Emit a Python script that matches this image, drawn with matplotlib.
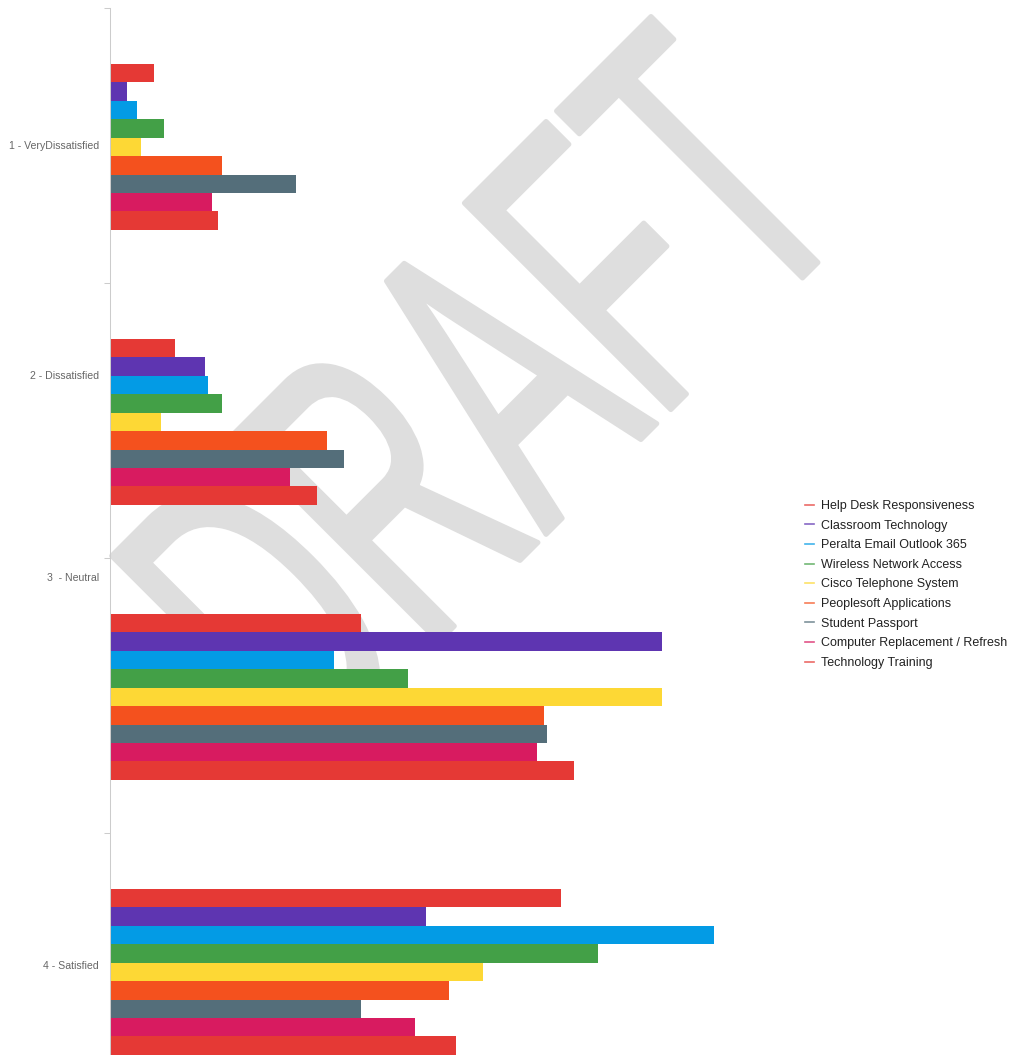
import matplotlib
matplotlib.use("Agg")
import matplotlib.pyplot as plt
import numpy as np
from matplotlib.textpath import TextPath
from matplotlib.font_manager import FontProperties
from matplotlib.patches import PathPatch
from matplotlib.transforms import Affine2D, IdentityTransform
from matplotlib.lines import Line2D

plt.rcParams["font.family"] = ["Liberation Sans", "DejaVu Sans"]

# ---- data -------------------------------------------------------------
categories = ["1 - VeryDissatisfied", "2 - Dissatisfied", "3  - Neutral", "4 - Satisfied"]
services = [
    "Help Desk Responsiveness",
    "Classroom Technology",
    "Peralta Email Outlook 365",
    "Wireless Network Access",
    "Cisco Telephone System",
    "Peoplesoft Applications",
    "Student Passport",
    "Computer Replacement / Refresh",
    "Technology Training",
]
colors = ["#E53935", "#5E35B1", "#039BE5", "#43A047", "#FDD835",
          "#F4511E", "#546E7A", "#D81B60", "#E53935"]

help_desk = [44, 65, 251, 451]
classroom = [17, 95, 552, 316]
email = [27, 98, 224, 604]
wireless = [54, 112, 298, 488]
telephone = [31, 51, 552, 373]
peoplesoft = [112, 217, 434, 339]
passport = [186, 234, 437, 251]
computer = [102, 180, 427, 305]
training = [108, 207, 464, 346]
series = [help_desk, classroom, email, wireless, telephone,
          peoplesoft, passport, computer, training]

# where each category caption sits along the category axis
label_pos = [0.0, 0.835, 1.57, 2.98]

# ---- figure -----------------------------------------------------------
W, H = 1009, 1055
fig = plt.figure(figsize=(W / 100, H / 100), dpi=100)
fig.patch.set_facecolor("white")

ax = fig.add_axes([110 / W, 1 - 1108 / H, 670 / W, 1100 / H])
ax.set_facecolor("none")
ax.set_zorder(1)
ax.set_xlim(0, 670)
ax.set_ylim(3.5, -0.5)

n = len(series)
group = 0.604
bh = group / n
base = np.arange(len(categories))
for i, (vals, c) in enumerate(zip(series, colors)):
    y = base + (i - (n - 1) / 2) * bh + 0.005
    ax.barh(y, vals, height=bh, color=c, linewidth=0, zorder=2)

for s in ("top", "right", "bottom"):
    ax.spines[s].set_visible(False)
ax.spines["left"].set_color("#cccccc")
ax.spines["left"].set_linewidth(0.75)
ax.xaxis.set_visible(False)

ax.set_yticks(label_pos)
ax.set_yticklabels(categories, fontsize=7.6, color="#666666")
ax.tick_params(axis="y", which="major", length=0, pad=8)
ax.set_yticks(np.arange(-0.5, 4.0, 1.0), minor=True)
ax.tick_params(axis="y", which="minor", length=4.3, width=0.75, color="#cccccc")

handles = [Line2D([0], [0], color=c, lw=1.2, alpha=0.75) for c in colors]
ax.legend(handles, services, loc="upper left",
          bbox_to_anchor=(805 / W, 1 - 500 / H), bbox_transform=fig.transFigure,
          frameon=False, fontsize=9, labelcolor="#222222",
          handlelength=0.75, handletextpad=0.55, labelspacing=0.61,
          borderpad=0, borderaxespad=0)

# ---- DRAFT watermark (rotated 45 degrees, condensed) ------------------
fp = FontProperties(family="Liberation Sans")
tp = TextPath((0, 0), "DRAFT", size=1, prop=fp)
ext = tp.get_extents()
t_ext = TextPath((0, 0), "T", size=1, prop=fp).get_extents()
t_center = ext.x1 - (t_ext.x1 - t_ext.x0) / 2

stroke = 5.0
b = (297 - stroke) / ext.y1          # px per em, letter height
a = 696.0 / (t_center - ext.x0)      # px per em, letter width
r = np.sqrt(0.5)
M = np.array([[r * a, -r * b, 0.0],
              [r * a, r * b, 0.0],
              [0.0, 0.0, 1.0]])
p = M[:2, :2] @ np.array([t_center, 0.0])
anchor = np.array([812 - r * stroke / 2, H - 272 + r * stroke / 2])
tr = Affine2D(M).translate(anchor[0] - p[0], anchor[1] - p[1])
wm = PathPatch(tr.transform_path(tp), transform=IdentityTransform(),
               facecolor="#DEDEDE", edgecolor="#DEDEDE",
               lw=stroke * 0.72, joinstyle="round", zorder=0)
fig.add_artist(wm)

fig.savefig("out.png", dpi=100)
